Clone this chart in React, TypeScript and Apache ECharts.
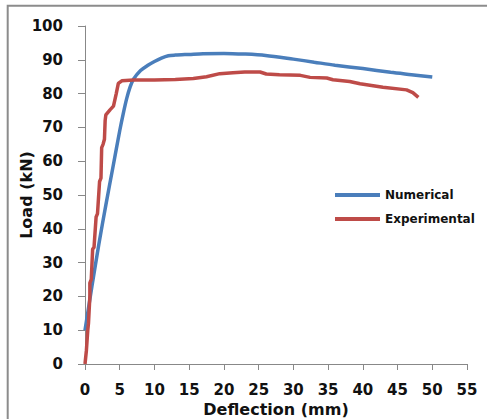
import React, { useEffect, useRef } from "react";
import * as echarts from "echarts";

const xTicks = { min: 0, max: 55, interval: 5 };
const yTicks = { min: 0, max: 100, interval: 10 };

const numericalDeflection = [0, 1, 2, 3, 4, 5, 5.5, 6, 6.5, 7, 8, 9, 10, 11, 12, 13, 15, 17, 20, 23, 26, 30, 33, 36, 40, 44, 47, 50];
const numericalLoad = [10, 23, 35.5, 47, 58, 69, 74, 78.5, 82, 84.3, 86.8, 88.3, 89.5, 90.5, 91.2, 91.4, 91.6, 91.8, 91.9, 91.7, 91.3, 90.2, 89.3, 88.4, 87.4, 86.3, 85.6, 84.9];

const experimentalDeflection = [0, 0.2, 0.4, 0.5, 0.7, 0.7, 0.9, 1.1, 1.3, 1.6, 1.8, 2.1, 2.3, 2.4, 2.6, 2.8, 2.9, 3.0, 3.6, 4.1, 4.5, 4.8, 5.3, 7, 10, 13, 15.6, 17.5, 19.4, 21.3, 23, 25.2, 26.1, 28, 31, 32.4, 34.8, 35.7, 38.1, 39.6, 42.9, 46.3, 47.2, 48];
const experimentalLoad = [0, 4, 10, 12, 20, 24, 25, 34, 34.5, 43.5, 44.5, 54, 55, 64, 65, 66.5, 72, 73.7, 75.2, 76.3, 80, 83, 83.8, 84, 84, 84.2, 84.5, 85, 85.9, 86.2, 86.4, 86.4, 85.8, 85.6, 85.4, 84.8, 84.6, 84.1, 83.6, 82.9, 81.9, 81.1, 80.3, 78.9];

const seriesNames = ["Numerical", "Experimental"];
const seriesColors = ["#4a7ebb", "#be4b48"];

const FONT = "DejaVu Sans";

export default function App() {
  const ref = useRef<HTMLDivElement>(null);
  useEffect(() => {
    document.body.style.margin = "0";
    const chart = echarts.init(ref.current!, null, { renderer: "svg" });
    const axisLine = { show: true, lineStyle: { color: "#888888", width: 1 } };
    chart.setOption({
      animation: false,
      backgroundColor: "#ffffff",
      grid: { left: 85, top: 26, width: 382, height: 338, outerBoundsMode: "none", containLabel: false },
      graphic: [
        {
          type: "rect",
          shape: { x: 7.7, y: 5.7, width: 600, height: 600 },
          style: { fill: "none", stroke: "#8c8c8c", lineWidth: 2 },
          silent: true,
        },
      ],
      legend: {
        orient: "vertical",
        left: 330,
        top: 183,
        icon: "rect",
        itemWidth: 45,
        itemHeight: 4,
        itemGap: 10,
        data: seriesNames,
        textStyle: { fontFamily: FONT, fontWeight: "bold", fontSize: 12, color: "#111", lineHeight: 14 },
      },
      xAxis: {
        type: "value",
        ...xTicks,
        name: "Deflection (mm)",
        nameLocation: "middle",
        nameGap: 37,
        nameMoveOverlap: false,
        nameTextStyle: { fontFamily: FONT, fontWeight: "bold", fontSize: 16, color: "#111" },
        axisLine,
        axisTick: { show: true, length: 6, lineStyle: { color: "#888888" } },
        axisLabel: { margin: 18, fontFamily: FONT, fontWeight: "bold", fontSize: 15, color: "#111" },
        splitLine: { show: false },
      },
      yAxis: {
        type: "value",
        ...yTicks,
        name: "Load (kN)",
        nameLocation: "middle",
        nameGap: 51,
        nameMoveOverlap: false,
        nameTextStyle: { fontFamily: FONT, fontWeight: "bold", fontSize: 16, color: "#111" },
        axisLine,
        axisTick: { show: true, length: 7, lineStyle: { color: "#888888" } },
        axisLabel: { margin: 22, fontFamily: FONT, fontWeight: "bold", fontSize: 15, color: "#111" },
        splitLine: { show: false },
      },
      series: [
        {
          name: seriesNames[0],
          type: "line",
          symbol: "none",
          smooth: 0.3,
          data: numericalDeflection.map((x, i) => [x, numericalLoad[i]]),
          lineStyle: { color: seriesColors[0], width: 3.5 },
          itemStyle: { color: seriesColors[0] },
        },
        {
          name: seriesNames[1],
          type: "line",
          symbol: "none",
          data: experimentalDeflection.map((x, i) => [x, experimentalLoad[i]]),
          lineStyle: { color: seriesColors[1], width: 3.5 },
          itemStyle: { color: seriesColors[1] },
        },
      ],
    });
    return () => chart.dispose();
  }, []);
  return <div ref={ref} style={{ width: 487, height: 419 }} />;
}
